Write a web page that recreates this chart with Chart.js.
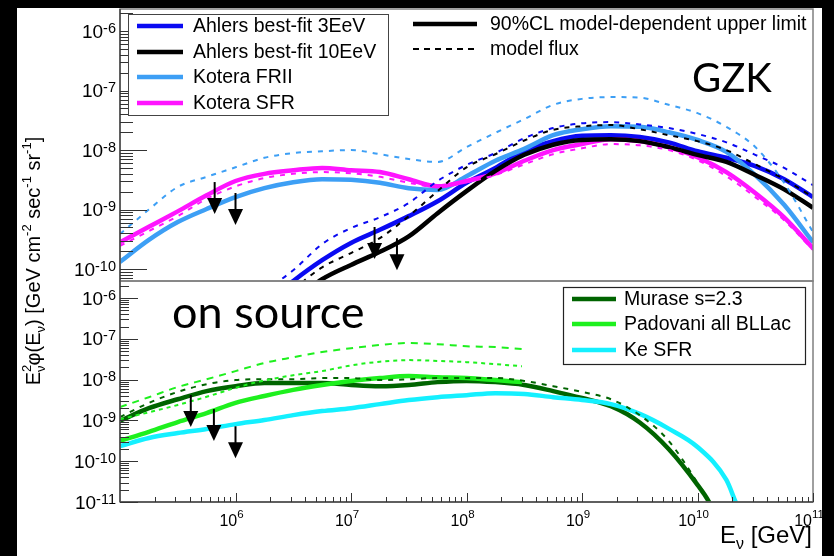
<!DOCTYPE html>
<html>
<head>
<meta charset="utf-8">
<title>Neutrino flux limits</title>
<script src="https://cdn.jsdelivr.net/npm/chart.js@4.4.1/dist/chart.umd.min.js"></script>
<style>
  html, body { margin: 0; padding: 0; background: #000; }
  #chart { display: block; }
</style>
</head>
<body>
<canvas id="chart" width="834" height="556"></canvas>
<script>
// Two stacked log panels (GZK / on source) sharing one energy axis
// all values are log10: energy in GeV, flux in GeV cm^-2 s^-1 sr^-1

// --- GZK panel ---
const gridE = [5, 5.25, 5.5, 5.75, 6, 6.25, 6.5, 6.75, 7, 7.25, 7.5, 7.75, 8, 8.25, 8.5, 8.75, 9, 9.25, 9.5, 9.75, 10, 10.25, 10.5, 10.75, 11]

const koteraSfrLim  = [-9.55, -9.29, -9.03, -8.76, -8.52, -8.40, -8.34, -8.30, -8.34, -8.37, -8.49, -8.61, -8.52, -8.39, -8.18, -8.00, -7.90, -7.82, -7.85, -7.95, -8.12, -8.37, -8.72, -9.13, -9.65]
const koteraSfrFlux = [-9.61, -9.36, -9.11, -8.82, -8.61, -8.47, -8.40, -8.37, -8.39, -8.45, -8.55, -8.62, -8.54, -8.42, -8.24, -8.07, -7.97, -7.90, -7.92, -8.00, -8.17, -8.44, -8.79, -9.18, -9.68]
const koteraFr2Lim  = [-9.88, -9.51, -9.21, -8.99, -8.79, -8.64, -8.54, -8.49, -8.50, -8.55, -8.64, -8.67, -8.44, -8.18, -7.98, -7.75, -7.65, -7.60, -7.61, -7.70, -7.83, -8.03, -8.42, -8.92, -9.55]
const koteraFr2Flux = [-9.41, -9.00, -8.62, -8.45, -8.29, -8.13, -8.05, -8.02, -8.00, -8.07, -8.15, -8.20, -7.95, -7.71, -7.48, -7.24, -7.14, -7.11, -7.12, -7.24, -7.38, -7.61, -7.95, -8.55, -9.38]

const ahlers3LimE  = [6.4, 6.5, 6.75, 7, 7.25, 7.5, 7.75, 8, 8.25, 8.5, 8.75, 9, 9.25, 9.5, 9.75, 10, 10.25, 10.5, 10.75, 11]
const ahlers3Lim   = [-10.36, -10.20, -9.85, -9.56, -9.34, -9.11, -8.86, -8.55, -8.30, -8.02, -7.85, -7.76, -7.75, -7.78, -7.87, -8.02, -8.13, -8.27, -8.49, -8.79]
const ahlers3FluxE = [6.25, 6.5, 6.75, 7, 7.25, 7.5, 7.75, 8, 8.25, 8.5, 8.75, 9, 9.25, 9.5, 9.75, 10, 10.25, 10.5, 10.75, 11]
const ahlers3Flux  = [-10.37, -10.02, -9.58, -9.31, -9.13, -8.89, -8.52, -8.25, -8.05, -7.80, -7.63, -7.55, -7.53, -7.57, -7.63, -7.73, -7.87, -8.08, -8.30, -8.59]

const ahlers10LimE  = [6.6, 6.75, 7, 7.25, 7.5, 7.75, 8, 8.25, 8.5, 8.75, 9, 9.25, 9.5, 9.75, 10, 10.25, 10.5, 10.75, 11]
const ahlers10Lim   = [-10.39, -10.17, -9.93, -9.71, -9.45, -9.06, -8.69, -8.35, -8.08, -7.91, -7.83, -7.82, -7.85, -7.95, -8.08, -8.20, -8.42, -8.66, -8.97]
const ahlers10FluxE = [6.5, 6.75, 7, 7.25, 7.5, 7.75, 8, 8.25, 8.5, 8.75, 9, 9.25, 9.5, 9.75, 10, 10.25, 10.5, 10.75, 11]
const ahlers10Flux  = [-10.34, -9.97, -9.73, -9.48, -9.11, -8.69, -8.29, -8.07, -7.84, -7.66, -7.60, -7.58, -7.65, -7.75, -7.85, -8.00, -8.24, -8.49, -8.79]

// --- on source panel ---
const muraseE    = [5, 5.25, 5.5, 5.75, 6, 6.25, 6.5, 6.75, 7, 7.25, 7.5, 7.75, 8, 8.25, 8.5, 8.75, 9, 9.25, 9.5, 9.75, 10, 10.1, 10.13]
const muraseLim  = [-9.01, -8.70, -8.48, -8.28, -8.16, -8.08, -8.08, -8.08, -8.13, -8.16, -8.13, -8.06, -8.03, -8.06, -8.13, -8.28, -8.45, -8.65, -9.05, -9.70, -10.58, -11.0, -11.2]
const muraseFlux = [-8.92, -8.57, -8.30, -8.11, -8.01, -7.99, -7.99, -7.96, -7.96, -8.01, -7.99, -7.96, -7.96, -7.96, -8.03, -8.16, -8.30, -8.48, -8.87, -9.50, -10.53, -11.0, -11.2]

const padovaniE     = [5, 5.25, 5.5, 5.75, 6, 6.25, 6.5, 6.75, 7, 7.25, 7.5, 7.75, 8, 8.25, 8.48]
const padovaniLim   = [-9.50, -9.28, -9.04, -8.82, -8.57, -8.40, -8.25, -8.13, -8.03, -7.96, -7.91, -7.94, -7.96, -8.01, -8.06]
const padovaniFluxA = [-8.67, -8.43, -8.18, -7.99, -7.79, -7.59, -7.45, -7.32, -7.23, -7.15, -7.10, -7.13, -7.18, -7.20, -7.25]
const padovaniFluxB = [-8.97, -8.80, -8.62, -8.42, -8.20, -8.02, -7.89, -7.79, -7.65, -7.56, -7.52, -7.54, -7.57, -7.62, -7.67]

const keE   = [5, 5.25, 5.5, 5.75, 6, 6.25, 6.5, 6.75, 7, 7.25, 7.5, 7.75, 8, 8.25, 8.5, 8.75, 9, 9.25, 9.5, 9.75, 10, 10.25, 10.33, 10.36]
const keLim = [-9.63, -9.43, -9.31, -9.21, -9.09, -8.99, -8.87, -8.77, -8.70, -8.60, -8.50, -8.43, -8.38, -8.33, -8.35, -8.43, -8.50, -8.60, -8.84, -9.20, -9.65, -10.46, -11.0, -11.2]

// upper-limit arrows (energy GeV, flux)
const gzkArrowE = [6.6e5, 1.0e6, 1.6e7, 2.5e7]
const gzkArrowF = [2.9e-9, 1.9e-9, 5.1e-10, 3.3e-10]
const srcArrowE = [4.1e5, 6.5e5, 1.0e6]
const srcArrowF = [4.2e-9, 1.9e-9, 7.2e-10]

// tick labels (exponents)
const gzkTickExp = [-6, -7, -8, -9, -10]
const srcTickExp = [-6, -7, -8, -9, -10, -11]
const xTickExp = [6, 7, 8, 9, 10, 11]

const gzkNames = ['Ahlers best-fit 3EeV', 'Ahlers best-fit 10EeV', 'Kotera FRII', 'Kotera SFR']
const srcNames = ['Murase s=2.3', 'Padovani all BLLac', 'Ke SFR']
const styleNames = ['90%CL model-dependent upper limit', 'model flux']

const C = {
  blue: '#0a0af2',
  black: '#000000',
  sky: '#3d9ff5',
  magenta: '#ff14ff',
  dkgreen: '#006400',
  green: '#1ef01e',
  cyan: '#14f0ff'
}
const FONT = '"Liberation Sans", Arial, Helvetica, sans-serif'

function pts (xs, ys) {
  return xs.map((e, i) => ({ x: Math.pow(10, e), y: Math.pow(10, ys[i]) }))
}

function limit (label, xs, ys, color, axis) {
  return { label, data: pts(xs, ys), yAxisID: axis, borderColor: color, borderWidth: 4.5, pointRadius: 0, fill: false, cubicInterpolationMode: 'monotone' }
}
function flux (label, xs, ys, color, axis, dash) {
  return { label, data: pts(xs, ys), yAxisID: axis, borderColor: color, borderWidth: 2, borderDash: dash || [5, 6], pointRadius: 0, fill: false, cubicInterpolationMode: 'monotone' }
}

const datasets = [
  flux('Kotera FRII flux', gridE, koteraFr2Flux, C.sky, 'yTop'),
  flux('Kotera SFR flux', gridE, koteraSfrFlux, C.magenta, 'yTop'),
  flux('Ahlers 3EeV flux', ahlers3FluxE, ahlers3Flux, C.blue, 'yTop'),
  flux('Ahlers 10EeV flux', ahlers10FluxE, ahlers10Flux, C.black, 'yTop'),
  limit('Ahlers 10EeV', ahlers10LimE, ahlers10Lim, C.black, 'yTop'),
  limit('Kotera SFR', gridE, koteraSfrLim, C.magenta, 'yTop'),
  limit('Kotera FRII', gridE, koteraFr2Lim, C.sky, 'yTop'),
  limit('Ahlers 3EeV', ahlers3LimE, ahlers3Lim, C.blue, 'yTop'),
  flux('Padovani flux a', padovaniE, padovaniFluxA, C.green, 'yBot', [7, 6]),
  flux('Padovani flux b', padovaniE, padovaniFluxB, C.green, 'yBot', [4, 4]),
  flux('Murase flux', muraseE, muraseFlux, C.dkgreen, 'yBot'),
  limit('Ke SFR', keE, keLim, C.cyan, 'yBot'),
  limit('Padovani all BLLac', padovaniE, padovaniLim, C.green, 'yBot'),
  limit('Murase s=2.3', muraseE, muraseLim, C.dkgreen, 'yBot')
]

function logAxis (min, max, weight, fixW) {
  return {
    type: 'logarithmic', min, max, position: 'left', stack: 'flux', stackWeight: weight,
    ticks: { display: false }, grid: { display: false }, border: { display: false },
    afterFit: s => { s.width = fixW }
  }
}

// ---- drawing helpers ----
function line (ctx, x1, y1, x2, y2) {
  ctx.beginPath(); ctx.moveTo(x1, y1); ctx.lineTo(x2, y2); ctx.stroke()
}

function powLabel (ctx, exp, x, y, size, small, raise, align) {
  ctx.font = `${size}px ${FONT}`
  const wb = ctx.measureText('10').width
  ctx.font = `${small}px ${FONT}`
  const we = ctx.measureText(String(exp)).width
  const w = wb + we
  const x0 = align === 'right' ? x - w : x - w / 2
  ctx.textAlign = 'left'
  ctx.textBaseline = 'alphabetic'
  ctx.font = `${size}px ${FONT}`
  ctx.fillText('10', x0, y)
  ctx.font = `${small}px ${FONT}`
  ctx.fillText(String(exp), x0 + wb, y - raise)
}

// parts: [text, mode] mode 0 normal, 1 sup, -1 sub, 2 sup without advance
function rich (ctx, parts, size, draw, x, y) {
  const small = Math.round(size * 0.65)
  let cx = x || 0
  for (const [t, mode] of parts) {
    ctx.font = `${mode === 0 ? size : small}px ${FONT}`
    const w = ctx.measureText(t).width
    const dy = mode === 1 || mode === 2 ? -size * 0.45 : mode === -1 ? size * 0.25 : 0
    if (draw) ctx.fillText(t, cx, y + dy)
    if (mode !== 2) cx += w
  }
  return cx - (x || 0)
}

function arrow (ctx, px, py) {
  ctx.strokeStyle = '#000'
  ctx.lineWidth = 2
  line(ctx, px, py, px, py + 20)
  ctx.fillStyle = '#000'
  ctx.beginPath()
  ctx.moveTo(px - 7.5, py + 16)
  ctx.lineTo(px + 7.5, py + 16)
  ctx.lineTo(px, py + 32)
  ctx.closePath()
  ctx.fill()
}

function legendRow (ctx, x1, x2, y, color, width, dash, text, tx) {
  ctx.strokeStyle = color
  ctx.lineWidth = width
  ctx.setLineDash(dash)
  line(ctx, x1, y, x2, y)
  ctx.setLineDash([])
  ctx.fillStyle = '#000'
  ctx.font = `19.5px ${FONT}`
  ctx.textAlign = 'left'
  ctx.textBaseline = 'middle'
  ctx.fillText(text, tx, y + 1)
}

function yTicks (ctx, scale, left, major, minor) {
  const lo = Math.floor(Math.log10(scale.min))
  const hi = Math.ceil(Math.log10(scale.max))
  for (let e = lo; e <= hi; e++) {
    for (let m = 1; m <= 9; m++) {
      const v = m * Math.pow(10, e)
      if (v < scale.min * 0.999 || v > scale.max) continue
      const py = Math.round(scale.getPixelForValue(v)) + 0.5
      line(ctx, left, py, left + (m === 1 ? major : minor), py)
    }
  }
}

const decor = {
  id: 'decor',
  beforeDraw (chart) {
    const ctx = chart.ctx
    ctx.save()
    ctx.fillStyle = '#000'
    ctx.fillRect(0, 0, chart.width, chart.height)
    ctx.fillStyle = '#fff'
    ctx.fillRect(17, 8, 805, 548)
    ctx.restore()
  },
  beforeDatasetDraw (chart, args) {
    const { xScale, yScale } = args.meta
    const ctx = chart.ctx
    ctx.save()
    ctx.beginPath()
    ctx.rect(xScale.left, yScale.top, xScale.right - xScale.left, yScale.bottom - yScale.top)
    ctx.clip()
  },
  afterDatasetDraw (chart) {
    chart.ctx.restore()
  },
  afterDraw (chart) {
    const ctx = chart.ctx
    const { x, yTop, yBot } = chart.scales
    const L = x.left, R = x.right
    ctx.save()

    // frames
    ctx.strokeStyle = '#808080'
    ctx.lineWidth = 1.5
    ctx.strokeRect(L, yTop.top, R - L, yTop.bottom - yTop.top)
    ctx.strokeRect(L, yBot.top, R - L, yBot.bottom - yBot.top)
    ctx.strokeStyle = '#4a4a4a'
    line(ctx, L, yTop.top, L, yBot.bottom)
    line(ctx, L, yBot.bottom, R, yBot.bottom)

    // ticks
    ctx.lineWidth = 1
    ctx.strokeStyle = '#333'
    yTicks(ctx, yTop, L, 27, 13)
    yTicks(ctx, yBot, L, 18, 9)
    for (let e = 5; e <= 11; e++) {
      for (let m = 1; m <= 9; m++) {
        const v = m * Math.pow(10, e)
        if (v <= x.min || v > x.max) continue
        const px = Math.round(x.getPixelForValue(v)) + 0.5
        line(ctx, px, yBot.bottom, px, yBot.bottom - (m === 1 ? 9 : 5))
      }
    }

    // tick labels
    ctx.fillStyle = '#000'
    gzkTickExp.forEach(e => powLabel(ctx, e, 116, yTop.getPixelForValue(Math.pow(10, e)) + 6.5, 19, 14.5, 5, 'right'))
    srcTickExp.forEach(e => powLabel(ctx, e, 116, yBot.getPixelForValue(Math.pow(10, e)) + 6.5, 19, 14.5, 5, 'right'))
    xTickExp.forEach(e => powLabel(ctx, e, x.getPixelForValue(Math.pow(10, e)) - 4, 526, 16, 11.5, 8, 'center'))

    // axis titles
    ctx.textAlign = 'left'
    ctx.textBaseline = 'alphabetic'
    const xt = [['E', 0], ['ν', -1], [' [GeV]', 0]]
    const wx = rich(ctx, xt, 24, false)
    rich(ctx, xt, 24, true, 812 - wx, 543)

    const yt = [['E', 0], ['2', 2], ['ν', -1], ['φ(E', 0], ['ν', -1], [') [GeV cm', 0], ['-2', 1], [' sec', 0], ['-1', 1], [' sr', 0], ['-1', 1], [']', 0]]
    const wy = rich(ctx, yt, 20, false)
    ctx.save()
    ctx.translate(40, 261)
    ctx.rotate(-Math.PI / 2)
    rich(ctx, yt, 20, true, -wy / 2, 0)
    ctx.restore()

    // arrows
    gzkArrowE.forEach((e, i) => arrow(ctx, x.getPixelForValue(e), yTop.getPixelForValue(gzkArrowF[i])))
    srcArrowE.forEach((e, i) => arrow(ctx, x.getPixelForValue(e), yBot.getPixelForValue(srcArrowF[i])))

    // legends
    ctx.fillStyle = '#fff'
    ctx.fillRect(128, 14, 260, 101)
    ctx.strokeStyle = '#444'
    ctx.lineWidth = 1
    ctx.strokeRect(128.5, 14.5, 260, 101)
    const gzkCols = [C.blue, C.black, C.sky, C.magenta]
    gzkNames.forEach((n, i) => legendRow(ctx, 137, 183, [26, 52, 77, 103][i], gzkCols[i], 4.5, [], n, 193))

    legendRow(ctx, 413, 477, 24, '#000', 4.5, [], styleNames[0], 490)
    legendRow(ctx, 413, 477, 49, '#000', 2, [6, 5], styleNames[1], 490)

    ctx.fillStyle = '#fff'
    ctx.fillRect(563, 287, 242, 77)
    ctx.strokeStyle = '#222'
    ctx.lineWidth = 1.2
    ctx.strokeRect(563.5, 287.5, 242, 77)
    const srcCols = [C.dkgreen, C.green, C.cyan]
    srcNames.forEach((n, i) => legendRow(ctx, 572, 616, [299, 324, 350][i], srcCols[i], 4.5, [], n, 624))

    // panel captions
    ctx.fillStyle = '#000'
    ctx.textAlign = 'left'
    ctx.textBaseline = 'alphabetic'
    ctx.font = '40px Lato, "Open Sans", sans-serif'
    ctx.fillText('GZK', 692, 92)
    ctx.font = '45px Lato, "Open Sans", sans-serif'
    ctx.fillText('on source', 172, 328)

    ctx.restore()
  }
}

new Chart(document.getElementById('chart'), {
  type: 'line',
  data: { datasets },
  options: {
    responsive: false,
    animation: false,
    devicePixelRatio: 1,
    layout: { padding: { left: 0, right: 21, top: 9, bottom: 0 } },
    plugins: { legend: { display: false }, tooltip: { enabled: false } },
    scales: {
      x: {
        type: 'logarithmic', min: 1e5, max: 1e11,
        ticks: { display: false }, grid: { display: false }, border: { display: false },
        afterFit: s => { s.height = 54 }
      },
      yBot: logAxis(1e-11, Math.pow(10, -5.58), 221, 120),
      yTop: logAxis(Math.pow(10, -10.2), Math.pow(10, -5.63), 272, 120)
    }
  },
  plugins: [decor]
})
</script>
</body>
</html>
